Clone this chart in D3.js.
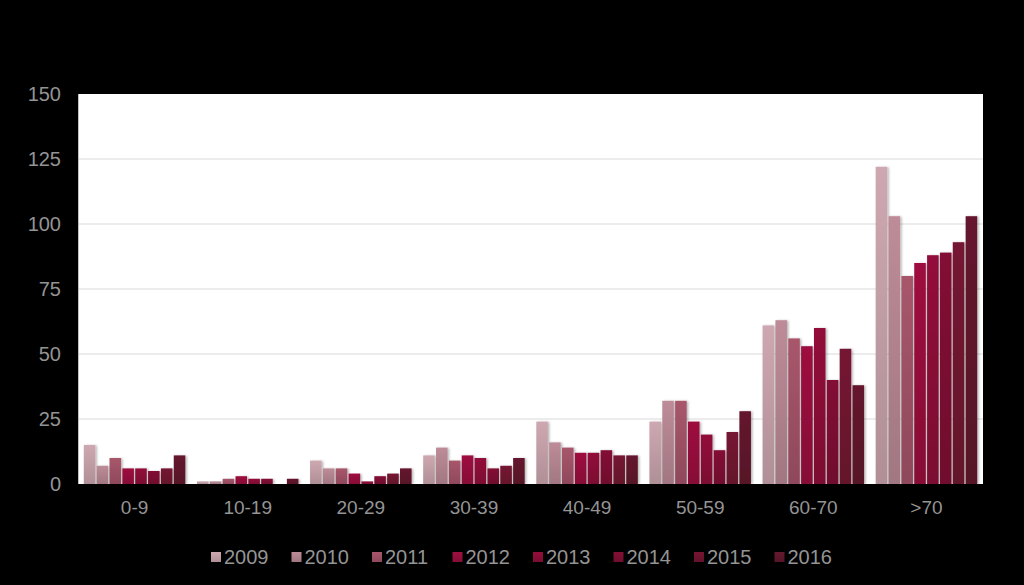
<!DOCTYPE html>
<html>
<head>
<meta charset="UTF-8">
<title>Bar chart</title>
<script src="https://cdn.jsdelivr.net/npm/d3@7/dist/d3.min.js"></script>
<style>
  html, body { margin: 0; padding: 0; background: #000; }
  svg text { font-family: "Liberation Sans", Arial, sans-serif; fill: #949494; }
</style>
</head>
<body>
<svg id="chart" width="1024" height="585"></svg>
<script>
// categories and series
var groups = ["0-9", "10-19", "20-29", "30-39", "40-49", "50-59", "60-70", ">70"];
var years = ["2009", "2010", "2011", "2012", "2013", "2014", "2015", "2016"];
var yTicks = [0, 25, 50, 75, 100, 125, 150];

// one array per year, values per age group
var v2009 = [15, 1, 9, 11, 24, 24, 61, 122];
var v2010 = [7, 1, 6, 14, 16, 32, 63, 103];
var v2011 = [10, 2, 6, 9, 14, 32, 56, 80];
var v2012 = [6, 3, 4, 11, 12, 24, 53, 85];
var v2013 = [6, 2, 1, 10, 12, 19, 60, 88];
var v2014 = [5, 2, 3, 6, 13, 13, 40, 89];
var v2015 = [6, 0, 4, 7, 11, 20, 52, 93];
var v2016 = [11, 2, 6, 10, 11, 28, 38, 103];
var series = [v2009, v2010, v2011, v2012, v2013, v2014, v2015, v2016];

var colors = ["#c09ca5", "#b0828e", "#9c5064", "#930f3b", "#880d36", "#7a0f31", "#6d142f", "#5e172b"];

var svg = d3.select("#chart");
var pLeft = 78, pRight = 983, pTop = 94, pBottom = 484;

// gradients for the bars
var defs = svg.append("defs");
colors.forEach(function(c, i) {
  var g = defs.append("linearGradient")
    .attr("id", "grad" + i)
    .attr("x1", 0).attr("y1", 0).attr("x2", 0).attr("y2", 1);
  g.append("stop").attr("offset", "0%").attr("stop-color", d3.color(c).brighter(0.2));
  g.append("stop").attr("offset", "100%").attr("stop-color", d3.color(c).darker(0.25));
});
var sh = defs.append("filter").attr("id", "shadow")
  .attr("x", "-20%").attr("y", "-5%").attr("width", "150%").attr("height", "115%");
sh.append("feDropShadow").attr("dx", 1.5).attr("dy", 0.5).attr("stdDeviation", 1)
  .attr("flood-color", "#000").attr("flood-opacity", 0.3);

// plot area
svg.append("rect")
  .attr("x", pLeft).attr("y", pTop)
  .attr("width", pRight - pLeft).attr("height", pBottom - pTop)
  .attr("fill", "#fff");

var x0 = d3.scaleBand().domain(groups).range([pLeft, pRight]).paddingInner(0.08).paddingOuter(0.04);
var x1 = d3.scaleBand().domain(years).range([0, x0.bandwidth()]).padding(0.1);
var y = d3.scaleLinear().domain([0, 150]).range([pBottom, pTop]);

// grid lines
svg.append("g").selectAll("line")
  .data(yTicks.filter(function(d) { return d > 0 && d < 150; }))
  .enter().append("line")
  .attr("x1", pLeft).attr("x2", pRight)
  .attr("y1", function(d) { return y(d); })
  .attr("y2", function(d) { return y(d); })
  .attr("stroke", "#d9d9d9").attr("stroke-width", 1);

svg.append("line")
  .attr("x1", pLeft + 0.5).attr("x2", pLeft + 0.5)
  .attr("y1", pTop).attr("y2", pBottom)
  .attr("stroke", "#bfbfbf");

// bars
var rows = [];
groups.forEach(function(g, gi) {
  years.forEach(function(yr, si) {
    rows.push({ group: g, year: yr, s: si, value: series[si][gi] });
  });
});

svg.append("g").selectAll("rect")
  .data(rows.filter(function(d) { return d.value > 0; }))
  .enter().append("rect")
  .attr("x", function(d) { return x0(d.group) + x1(d.year); })
  .attr("y", function(d) { return y(d.value); })
  .attr("width", x1.bandwidth())
  .attr("height", function(d) { return pBottom - y(d.value); })
  .attr("fill", function(d) { return "url(#grad" + d.s + ")"; })
  .attr("filter", "url(#shadow)");

// y axis labels
var yAxis = d3.axisLeft(y).tickValues(yTicks).tickSize(0).tickPadding(17);
var ya = svg.append("g").attr("transform", "translate(" + pLeft + ",0)").call(yAxis);
ya.select(".domain").remove();
ya.selectAll("text").style("font-size", "20px").attr("fill", "#949494");

// x axis labels
var xAxis = d3.axisBottom(x0).tickSize(0).tickPadding(17);
var xa = svg.append("g").attr("transform", "translate(0," + pBottom + ")").call(xAxis);
xa.select(".domain").remove();
xa.selectAll("text").style("font-size", "19px").attr("fill", "#949494");

// legend
var legend = svg.append("g").selectAll("g")
  .data(years)
  .enter().append("g")
  .attr("transform", function(d, i) { return "translate(" + (211 + i * 80.5) + ",557)"; });
legend.append("rect")
  .attr("x", 0).attr("y", -5)
  .attr("width", 10).attr("height", 10)
  .attr("fill", function(d, i) { return "url(#grad" + i + ")"; });
legend.append("text")
  .attr("x", 13).attr("y", 0).attr("dy", "0.36em")
  .style("font-size", "20px")
  .text(function(d) { return d; });
</script>
</body>
</html>
